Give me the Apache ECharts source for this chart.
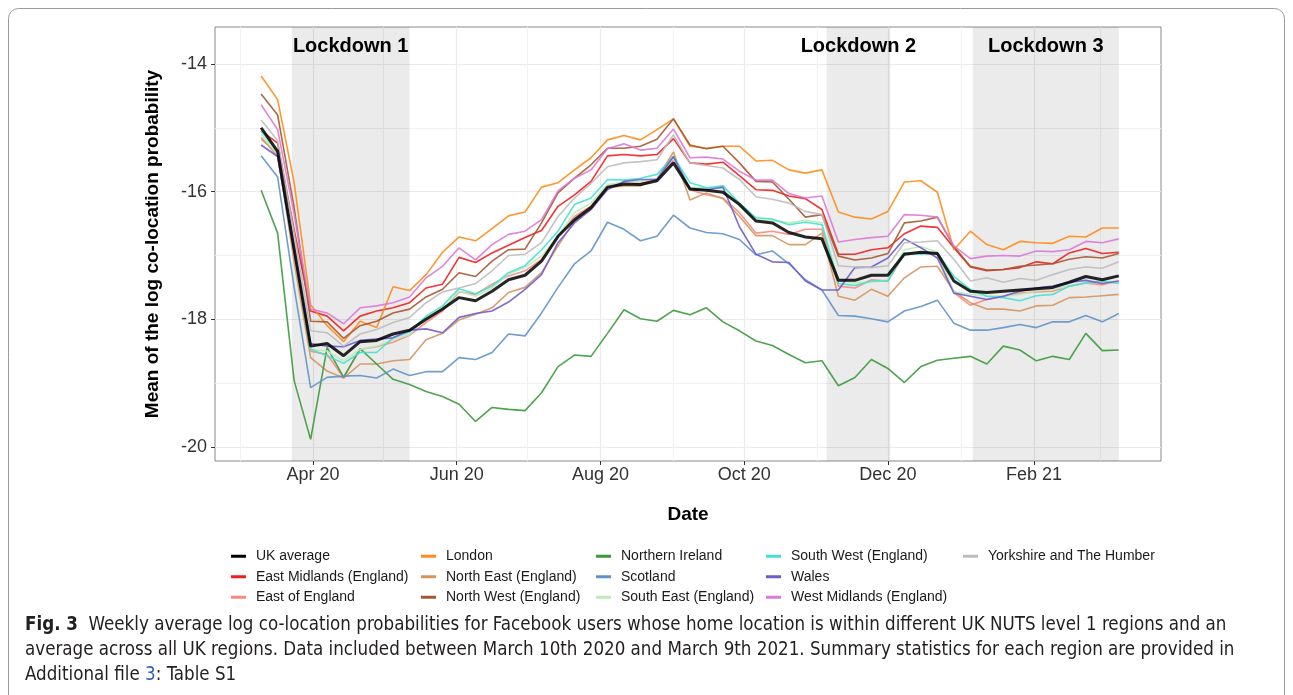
<!DOCTYPE html>
<html>
<head>
<meta charset="utf-8">
<script src="https://cdn.jsdelivr.net/npm/echarts@6/dist/echarts.min.js"></script>
<style>
  html, body { margin: 0; padding: 0; background: #fff; }
  #chart { width: 1293px; height: 695px; }
</style>
</head>
<body>
<div id="chart"></div>
<script>
// weekly dates (10 Mar 2020 - 9 Mar 2021)
const weeks = [
  '2020-03-10','2020-03-17','2020-03-24','2020-03-31','2020-04-07','2020-04-14','2020-04-21','2020-04-28','2020-05-05','2020-05-12',
  '2020-05-19','2020-05-26','2020-06-02','2020-06-09','2020-06-16','2020-06-23','2020-06-30','2020-07-07','2020-07-14','2020-07-21',
  '2020-07-28','2020-08-04','2020-08-11','2020-08-18','2020-08-25','2020-09-01','2020-09-08','2020-09-15','2020-09-22','2020-09-29',
  '2020-10-06','2020-10-13','2020-10-20','2020-10-27','2020-11-03','2020-11-10','2020-11-17','2020-11-24','2020-12-01','2020-12-08',
  '2020-12-15','2020-12-22','2020-12-29','2021-01-05','2021-01-12','2021-01-19','2021-01-26','2021-02-02','2021-02-09','2021-02-16',
  '2021-02-23','2021-03-02','2021-03-09'
];

const ukAverage = [-15.00,-15.37,-16.90,-18.42,-18.38,-18.57,-18.35,-18.33,-18.23,-18.17,
  -18.00,-17.84,-17.66,-17.71,-17.56,-17.38,-17.31,-17.09,-16.70,-16.44,
  -16.25,-15.93,-15.88,-15.89,-15.83,-15.55,-15.96,-15.98,-16.01,-16.20,
  -16.46,-16.49,-16.64,-16.71,-16.74,-17.39,-17.39,-17.31,-17.31,-16.98,
  -16.95,-16.97,-17.40,-17.56,-17.58,-17.56,-17.54,-17.52,-17.50,-17.42,
  -17.33,-17.38,-17.32];
const london = [-14.19,-14.56,-15.86,-17.77,-18.10,-18.35,-18.03,-18.13,-17.49,-17.55,
  -17.30,-16.95,-16.71,-16.77,-16.58,-16.38,-16.32,-15.93,-15.86,-15.66,
  -15.47,-15.19,-15.12,-15.19,-15.03,-14.86,-15.29,-15.32,-15.29,-15.29,
  -15.52,-15.51,-15.66,-15.71,-15.66,-16.32,-16.40,-16.43,-16.31,-15.85,
  -15.83,-16.01,-16.91,-16.62,-16.83,-16.91,-16.78,-16.80,-16.81,-16.70,
  -16.71,-16.57,-16.57];
const northernIreland = [-15.98,-16.65,-18.96,-19.88,-18.44,-18.91,-18.46,-18.70,-18.94,-19.02,
  -19.13,-19.21,-19.33,-19.60,-19.38,-19.41,-19.43,-19.15,-18.74,-18.56,
  -18.58,-18.22,-17.85,-17.99,-18.03,-17.86,-17.93,-17.82,-18.04,-18.18,
  -18.34,-18.41,-18.55,-18.68,-18.65,-19.04,-18.91,-18.63,-18.77,-18.99,
  -18.74,-18.64,-18.61,-18.58,-18.70,-18.42,-18.48,-18.65,-18.58,-18.63,
  -18.22,-18.49,-18.48];
const scotland = [-15.44,-15.77,-17.50,-19.07,-18.91,-18.89,-18.88,-18.92,-18.78,-18.88,
  -18.82,-18.82,-18.60,-18.63,-18.52,-18.23,-18.26,-17.90,-17.50,-17.13,
  -16.93,-16.48,-16.59,-16.77,-16.70,-16.37,-16.57,-16.64,-16.66,-16.75,
  -16.99,-16.93,-17.13,-17.38,-17.54,-17.94,-17.95,-17.99,-18.04,-17.87,
  -17.80,-17.70,-18.06,-18.17,-18.17,-18.13,-18.08,-18.13,-18.04,-18.04,
  -17.94,-18.04,-17.91];
const westMidlands = [-14.64,-15.03,-16.35,-17.84,-17.90,-18.07,-17.82,-17.79,-17.74,-17.65,
  -17.35,-17.17,-16.88,-17.07,-16.83,-16.67,-16.62,-16.44,-15.99,-15.79,
  -15.66,-15.33,-15.25,-15.35,-15.32,-15.02,-15.47,-15.46,-15.49,-15.68,
  -15.82,-15.82,-16.03,-16.10,-16.07,-16.79,-16.75,-16.72,-16.70,-16.36,
  -16.37,-16.40,-16.85,-17.05,-17.01,-17.00,-17.01,-16.93,-16.94,-16.91,
  -16.78,-16.80,-16.74];
const eastMidlands = [-15.05,-15.24,-16.60,-17.87,-17.95,-18.18,-17.95,-17.87,-17.82,-17.74,
  -17.51,-17.45,-17.03,-17.11,-16.96,-16.84,-16.72,-16.61,-16.23,-16.05,
  -15.84,-15.44,-15.42,-15.44,-15.42,-15.17,-15.55,-15.57,-15.54,-15.75,
  -15.97,-15.98,-16.07,-16.11,-16.28,-16.98,-16.98,-16.91,-16.88,-16.66,
  -16.54,-16.56,-16.88,-17.18,-17.24,-17.22,-17.19,-17.10,-17.13,-16.96,
  -16.89,-16.97,-16.95];
const northWest = [-14.47,-14.80,-16.25,-18.03,-18.04,-18.30,-18.10,-18.03,-17.90,-17.84,
  -17.65,-17.53,-17.27,-17.33,-17.09,-16.91,-16.90,-16.49,-16.02,-15.79,
  -15.58,-15.32,-15.32,-15.29,-15.18,-14.86,-15.27,-15.33,-15.29,-15.55,
  -15.84,-15.85,-16.12,-16.40,-16.36,-17.01,-17.07,-17.04,-16.97,-16.49,
  -16.46,-16.40,-16.86,-17.17,-17.23,-17.22,-17.17,-17.15,-17.13,-17.06,
  -17.02,-17.04,-16.97];
const yorkshire = [-14.88,-15.20,-16.65,-18.18,-18.21,-18.42,-18.23,-18.16,-18.05,-17.97,
  -17.74,-17.57,-17.51,-17.44,-17.24,-17.00,-16.98,-16.80,-16.39,-16.10,
  -15.87,-15.61,-15.55,-15.53,-15.50,-15.11,-15.55,-15.59,-15.63,-15.81,
  -16.08,-16.12,-16.18,-16.31,-16.36,-17.16,-17.18,-17.19,-17.16,-16.80,
  -16.79,-16.77,-17.06,-17.40,-17.35,-17.42,-17.36,-17.39,-17.30,-17.22,
  -17.18,-17.20,-17.10];
const southWest = [-15.05,-15.38,-16.90,-18.47,-18.57,-18.69,-18.52,-18.52,-18.29,-18.20,
  -17.95,-17.79,-17.52,-17.60,-17.48,-17.27,-17.16,-16.91,-16.62,-16.20,
  -16.10,-15.81,-15.82,-15.79,-15.73,-15.45,-15.86,-15.94,-15.91,-16.18,
  -16.41,-16.43,-16.52,-16.48,-16.52,-17.44,-17.47,-17.40,-17.40,-16.96,
  -16.98,-16.96,-17.33,-17.53,-17.64,-17.66,-17.71,-17.63,-17.61,-17.48,
  -17.43,-17.40,-17.44];
const southEast = [-15.10,-15.42,-16.95,-18.47,-18.50,-18.65,-18.47,-18.42,-18.32,-18.24,
  -17.97,-17.84,-17.56,-17.64,-17.51,-17.29,-17.19,-17.01,-16.70,-16.33,
  -16.18,-15.89,-15.85,-15.84,-15.79,-15.47,-15.93,-15.94,-15.96,-16.23,
  -16.44,-16.45,-16.49,-16.45,-16.49,-17.40,-17.43,-17.42,-17.38,-16.91,
  -16.86,-16.95,-17.57,-17.61,-17.63,-17.64,-17.61,-17.56,-17.53,-17.48,
  -17.42,-17.43,-17.42];
const eastOfEngland = [-15.15,-15.45,-17.00,-18.50,-18.55,-18.91,-18.47,-18.43,-18.36,-18.25,
  -18.05,-17.87,-17.57,-17.61,-17.45,-17.32,-17.24,-17.06,-16.70,-16.39,
  -16.23,-15.94,-15.89,-15.87,-15.81,-15.50,-15.97,-16.05,-16.10,-16.33,
  -16.65,-16.62,-16.67,-16.59,-16.59,-17.48,-17.51,-17.38,-17.40,-16.98,
  -16.96,-16.98,-17.58,-17.78,-17.69,-17.64,-17.59,-17.57,-17.56,-17.48,
  -17.43,-17.46,-17.40];
const northEast = [-15.18,-15.40,-17.10,-18.60,-18.81,-18.92,-18.70,-18.70,-18.65,-18.63,
  -18.32,-18.22,-18.01,-17.92,-17.82,-17.58,-17.50,-17.27,-16.85,-16.46,
  -16.28,-15.94,-15.91,-15.91,-15.80,-15.38,-16.13,-16.02,-16.11,-16.39,
  -16.69,-16.69,-16.83,-16.83,-16.65,-17.64,-17.70,-17.53,-17.64,-17.35,
  -17.18,-17.17,-17.56,-17.74,-17.84,-17.84,-17.87,-17.79,-17.78,-17.66,
  -17.65,-17.63,-17.61];
const wales = [-15.27,-15.45,-16.95,-18.38,-18.42,-18.43,-18.33,-18.31,-18.29,-18.17,
  -18.15,-18.21,-17.97,-17.91,-17.87,-17.73,-17.53,-17.30,-16.80,-16.49,
  -16.28,-15.97,-15.84,-15.81,-15.81,-15.45,-15.96,-15.97,-15.93,-16.55,
  -16.98,-17.10,-17.11,-17.40,-17.54,-17.54,-17.19,-17.18,-17.04,-16.74,
  -16.88,-17.04,-17.59,-17.64,-17.69,-17.64,-17.56,-17.51,-17.48,-17.42,
  -17.39,-17.44,-17.40];

// lockdown periods
const lockdowns = [
  ['Lockdown 1', '2020-03-23', '2020-05-12'],
  ['Lockdown 2', '2020-11-05', '2020-12-02'],
  ['Lockdown 3', '2021-01-06', '2021-03-09']
];

// axis breaks
const xMajor = ['2020-04-01','2020-06-01','2020-08-01','2020-10-01','2020-12-01','2021-02-01'];
const xMinor = ['2020-03-01','2020-05-01','2020-07-01','2020-09-01','2020-11-01','2021-01-01','2021-03-01'];
const yMajor = [-20, -18, -16, -14];
const yMinor = [-19, -17, -15];
const monthNames = ['Jan','Feb','Mar','Apr','May','Jun','Jul','Aug','Sep','Oct','Nov','Dec'];

const regions = [
  { name: 'East Midlands (England)', data: eastMidlands, color: '#f01e1e' },
  { name: 'East of England', data: eastOfEngland, color: '#fa8a7e' },
  { name: 'London', data: london, color: '#ff8c1a' },
  { name: 'North East (England)', data: northEast, color: '#d4955c' },
  { name: 'North West (England)', data: northWest, color: '#a5582f' },
  { name: 'Northern Ireland', data: northernIreland, color: '#3b9a3b' },
  { name: 'Scotland', data: scotland, color: '#5f93c8' },
  { name: 'South East (England)', data: southEast, color: '#b8ecb8' },
  { name: 'South West (England)', data: southWest, color: '#45e0d0' },
  { name: 'Wales', data: wales, color: '#6d5ccf' },
  { name: 'West Midlands (England)', data: westMidlands, color: '#dc78d8' },
  { name: 'Yorkshire and The Humber', data: yorkshire, color: '#bdbdbd' }
];

const legendCols = [
  ['UK average', 'East Midlands (England)', 'East of England'],
  ['London', 'North East (England)', 'North West (England)'],
  ['Northern Ireland', 'Scotland', 'South East (England)'],
  ['South West (England)', 'Wales', 'West Midlands (England)'],
  ['Yorkshire and The Humber']
];
const legendLeft = [231, 421, 596, 766, 963];

const font = "'Liberation Sans', Arial, sans-serif";
const captionFont = "'Liberation Sans Narrow', 'DejaVu Sans Condensed', sans-serif";
const t = s => Date.parse(s);            // ISO date -> UTC ms
const fmtMonth = v => { const d = new Date(v); return monthNames[d.getUTCMonth()] + ' ' + String(d.getUTCFullYear()).slice(2); };

const chart = echarts.init(document.getElementById('chart'));

const xMin = Date.UTC(2020, 1, 19, 10);
const xMax = Date.UTC(2021, 2, 26, 22);
const yMin = -20.219;
const yMax = -13.422;

const series = regions.map(r => ({
  name: r.name,
  type: 'line',
  data: weeks.map((d, i) => [t(d), r.data[i]]),
  showSymbol: false,
  color: r.color,
  lineStyle: { width: 1.6, color: r.color, opacity: 0.9 },
  z: 2
}));

series.push({
  name: 'UK average',
  type: 'line',
  data: weeks.map((d, i) => [t(d), ukAverage[i]]),
  showSymbol: false,
  color: '#000',
  lineStyle: { width: 3, color: '#000', opacity: 0.85 },
  z: 4,
  markArea: {
    silent: true,
    itemStyle: { color: 'rgba(0,0,0,0.08)' },
    label: {
      show: true, position: 'insideTop', distance: 9,
      fontSize: 20, fontWeight: 'bold', color: '#000', fontFamily: font
    },
    data: lockdowns.map(l => [{ name: l[0], xAxis: t(l[1]) }, { xAxis: t(l[2]) }])
  }
});

chart.setOption({
  backgroundColor: '#fff',
  animation: false,
  textStyle: { fontFamily: font },
  grid: {
    left: 215, right: 132, top: 27, bottom: 234,
    show: true, borderColor: '#8a8a8a', borderWidth: 1
  },
  xAxis: [{
    type: 'value', min: xMin, max: xMax,
    name: 'Date', nameLocation: 'middle', nameGap: 44,
    nameTextStyle: { fontSize: 19, fontWeight: 'bold', color: '#000' },
    axisLine: { show: false },
    axisTick: { show: true, length: 4, customValues: xMajor.map(t), lineStyle: { color: '#333' } },
    axisLabel: { customValues: xMajor.map(t), margin: 5, fontSize: 18, color: '#333', formatter: fmtMonth },
    splitLine: { show: true, lineStyle: { color: '#ebebeb', width: 1.2 } }
  }, {
    type: 'value', min: xMin, max: xMax, position: 'bottom',
    axisLine: { show: false },
    axisTick: { show: false, customValues: xMinor.map(t) },
    axisLabel: { show: false },
    splitLine: { show: true, lineStyle: { color: '#f0f0f0', width: 1 } }
  }],
  yAxis: [{
    type: 'value', min: yMin, max: yMax,
    name: 'Mean of the log co-location probability', nameLocation: 'middle', nameGap: 53,
    nameTextStyle: { fontSize: 19, fontWeight: 'bold', color: '#000' },
    axisLine: { show: false },
    axisTick: { show: true, length: 4, customValues: yMajor, lineStyle: { color: '#333' } },
    axisLabel: { customValues: yMajor, margin: 8, fontSize: 18, color: '#333' },
    splitLine: { show: true, lineStyle: { color: '#ebebeb', width: 1.2 } }
  }, {
    type: 'value', min: yMin, max: yMax, position: 'left',
    axisLine: { show: false },
    axisTick: { show: false, customValues: yMinor },
    axisLabel: { show: false },
    splitLine: { show: true, lineStyle: { color: '#f0f0f0', width: 1 } }
  }],
  legend: legendCols.map((names, c) => ({
    orient: 'vertical',
    left: legendLeft[c], top: 546, padding: 0,
    icon: 'rect', itemWidth: 15, itemHeight: 3, itemGap: 0,
    selectedMode: false,
    data: names,
    textStyle: { fontSize: 14, color: '#1a1a1a', lineHeight: 20.5, padding: [0, 0, 0, 5] }
  })),
  graphic: [{
    type: 'rect', silent: true,
    shape: { x: 8.5, y: 8.5, width: 1276, height: 740, r: 10 },
    style: { fill: 'none', stroke: '#9a9a9a', lineWidth: 1 }
  }, {
    type: 'text', left: 25, top: 613,
    style: {
      text: '{b|Fig. 3}  Weekly average log co-location probabilities for Facebook users whose home location is within different UK NUTS level 1 regions and an\n' +
            'average across all UK regions. Data included between March 10th 2020 and March 9th 2021. Summary statistics for each region are provided in\n' +
            'Additional file {l|3}: Table S1',
      fontFamily: captionFont, fontSize: 18.6, lineHeight: 25, fill: '#231f20',
      rich: {
        b: { fontWeight: 'bold', fontSize: 18.6, lineHeight: 25, fontFamily: captionFont, fill: '#231f20' },
        l: { fontSize: 18.6, lineHeight: 25, fontFamily: captionFont, fill: '#2f5fbf' }
      }
    }
  }],
  series: series
});
</script>
</body>
</html>
